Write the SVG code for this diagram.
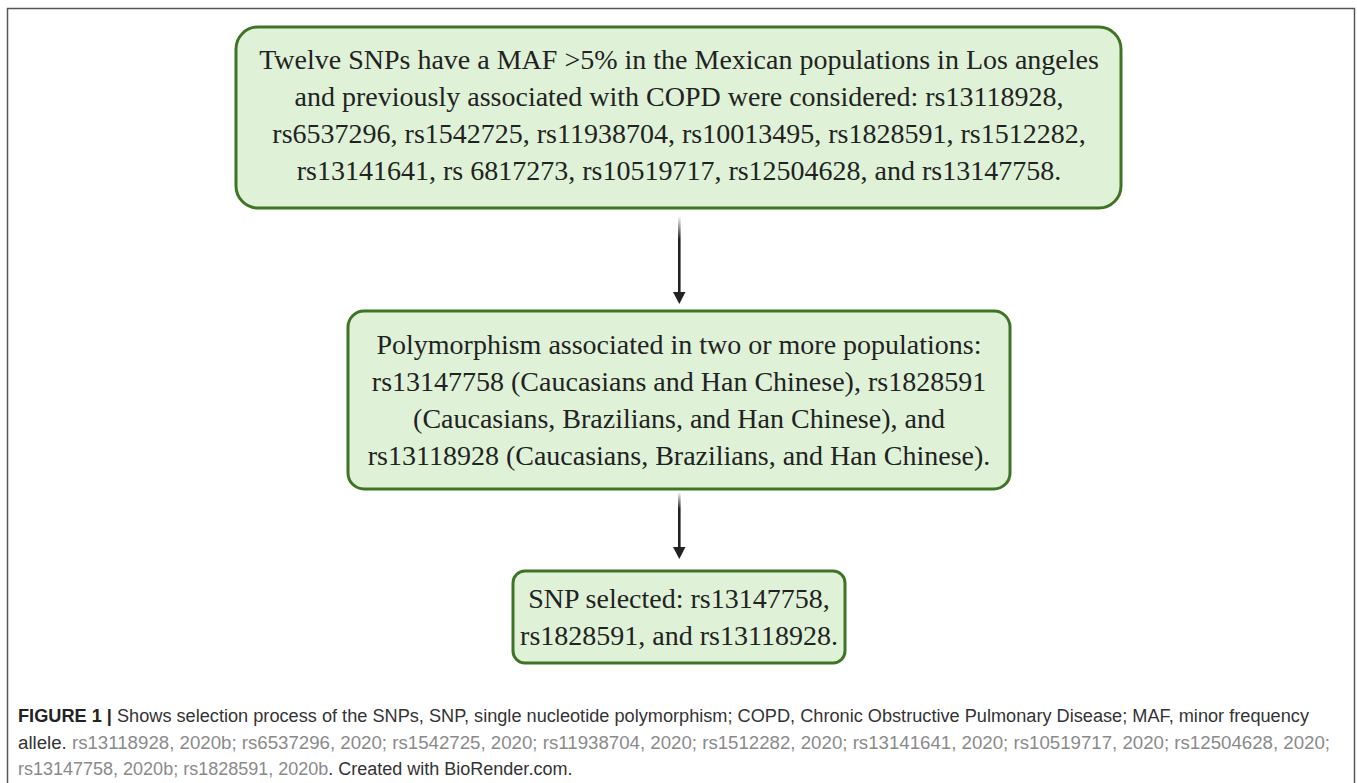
<svg xmlns="http://www.w3.org/2000/svg" width="1357" height="783" viewBox="0 0 1357 783">
<defs>
<style>
.box{fill:#dff2d8;stroke:#3f7426;stroke-width:3}
.bt{font-family:"Liberation Serif","Times New Roman",serif;font-size:28px;fill:#222;text-anchor:middle}
.cap{font-family:"Liberation Sans",Arial,sans-serif;font-size:18px;fill:#333}
.ref{fill:#8a8a8a}
.b{font-weight:bold;fill:#222}
.head{fill:#222}
</style>
<linearGradient id="shaft" x1="0" y1="0" x2="0" y2="1">
<stop offset="0" stop-color="#222" stop-opacity="0"/>
<stop offset="0.3" stop-color="#222" stop-opacity="1"/>
<stop offset="1" stop-color="#222"/>
</linearGradient>
</defs>
<rect x="0" y="0" width="1357" height="783" fill="#fff"/>
<rect id="frame" x="7.5" y="8.5" width="1347" height="790" fill="none" stroke="#555" stroke-width="1.5"/>
<g id="n1">
<rect class="box" x="236" y="27" width="885" height="181" rx="22"/>
<text class="bt"><tspan x="679" y="69">Twelve SNPs have a MAF &gt;5% in the Mexican populations in Los angeles</tspan><tspan x="679" y="106">and previously associated with COPD were considered: rs13118928,</tspan><tspan x="679" y="143">rs6537296, rs1542725, rs11938704, rs10013495, rs1828591, rs1512282,</tspan><tspan x="679" y="180">rs13141641, rs 6817273, rs10519717, rs12504628, and rs13147758.</tspan></text>
</g>
<g id="n2">
<rect class="box" x="348" y="311" width="662" height="178" rx="16"/>
<text class="bt"><tspan x="679" y="354">Polymorphism associated in two or more populations:</tspan><tspan x="679" y="391">rs13147758 (Caucasians and Han Chinese), rs1828591</tspan><tspan x="679" y="428">(Caucasians, Brazilians, and Han Chinese), and</tspan><tspan x="679" y="465">rs13118928 (Caucasians, Brazilians, and Han Chinese).</tspan></text>
</g>
<g id="n3">
<rect class="box" x="513" y="571" width="332" height="92" rx="12"/>
<text class="bt"><tspan x="679" y="608">SNP selected: rs13147758,</tspan><tspan x="679" y="645">rs1828591, and rs13118928.</tspan></text>
</g>
<g id="connectors">
<rect x="678" y="216" width="2.6" height="78" fill="url(#shaft)"/>
<polygon class="head" points="673,292 685.5,292 679.3,304"/>
<rect x="678" y="492" width="2.6" height="57" fill="url(#shaft)"/>
<polygon class="head" points="673,547 685.5,547 679.3,559"/>
</g>
<g id="caption">
<text class="cap" x="18" y="722" textLength="1291" lengthAdjust="spacingAndGlyphs"><tspan class="b">FIGURE 1 | </tspan>Shows selection process of the SNPs, SNP, single nucleotide polymorphism; COPD, Chronic Obstructive Pulmonary Disease; MAF, minor frequency</text>
<text class="cap" x="18" y="748.5" textLength="1312" lengthAdjust="spacingAndGlyphs">allele. <tspan class="ref">rs13118928, 2020b; rs6537296, 2020; rs1542725, 2020; rs11938704, 2020; rs1512282, 2020; rs13141641, 2020; rs10519717, 2020; rs12504628, 2020;</tspan></text>
<text class="cap" x="18" y="775"><tspan class="ref">rs13147758, 2020b; rs1828591, 2020b</tspan>. Created with BioRender.com.</text>
</g>
</svg>
